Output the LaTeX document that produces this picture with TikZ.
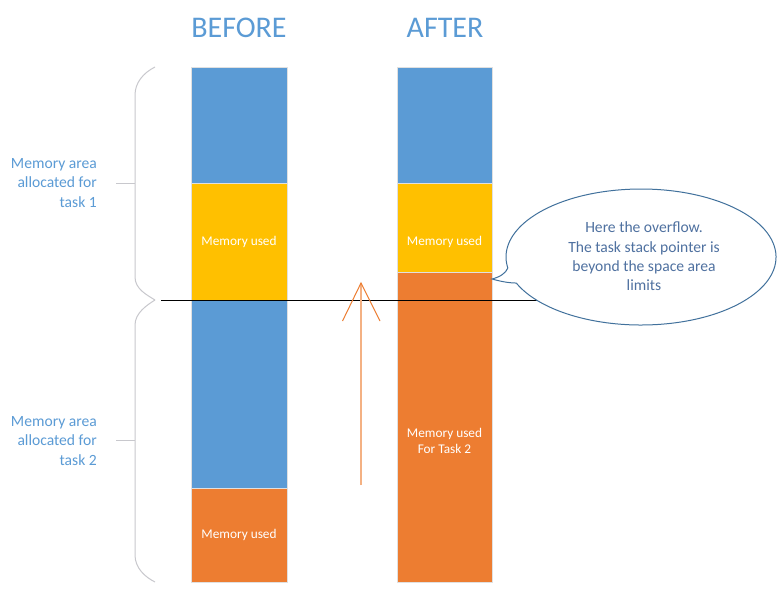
\documentclass[tikz,border=0pt]{standalone}
\usepackage{fontspec}
\setmainfont{Carlito}
\definecolor{mblue}{RGB}{91,155,213}
\definecolor{myellow}{RGB}{255,192,0}
\definecolor{morange}{RGB}{237,125,49}
\definecolor{mpeach}{RGB}{244,177,131}
\definecolor{bracegray}{RGB}{200,200,205}
\definecolor{calloutline}{RGB}{65,113,156}
\definecolor{callouttext}{RGB}{79,113,160}
\begin{document}
\begin{tikzpicture}[x=1pt,y=-1pt,
  membox/.style={draw=black!12,line width=0.8pt,anchor=north west,inner sep=0pt,outer sep=0pt,
    text=white,font=\fontsize{13.3}{16}\selectfont,align=center},
  title/.style={text=mblue,font=\fontsize{30}{36}\selectfont},
  sidelabel/.style={text=mblue,font=\fontsize{15.6}{19.2}\selectfont,align=right,anchor=east,inner sep=0pt},
  bracestyle/.style={draw=bracegray,line width=1pt},
  tick/.style={draw=bracegray,line width=1pt}]
\useasboundingbox (0,0) rectangle (782,592);
\fill[white] (0,0) rectangle (782,592);
% titles
\node[title] (tbefore) at (239,28) {BEFORE};
\node[title] (tafter) at (445,28) {AFTER};
% BEFORE column
\node[membox,fill=mblue,minimum width=96pt,minimum height=116pt] (b1) at (191,67) {};
\node[membox,fill=myellow,minimum width=96pt,minimum height=117pt] (b2) at (191,183) {Memory used};
\node[membox,fill=mblue,minimum width=96pt,minimum height=188pt] (b3) at (191,300) {};
\node[membox,fill=morange,minimum width=96pt,minimum height=94pt] (b4) at (191,488) {\raisebox{-2pt}{Memory used}};
% AFTER column
\node[membox,fill=mblue,minimum width=95pt,minimum height=116pt] (a1) at (397,67) {};
\node[membox,fill=myellow,minimum width=95pt,minimum height=117pt] (a2) at (397,183) {Memory used};
\node[membox,fill=morange,minimum width=95pt,minimum height=28pt] (a3) at (397,272) {};
\node[membox,fill=morange,minimum width=95pt,minimum height=282pt] (a4) at (397,300) {Memory used\\For Task 2};
% braces
\draw[bracestyle] (155,67) .. controls (143,73) and (135,83) .. (135,95) -- (135,277)
  .. controls (135,289) and (147,295) .. (155,300);
\draw[bracestyle] (155,300) .. controls (147,305) and (135,313) .. (135,325) -- (135,555)
  .. controls (135,568) and (145,577) .. (155,582);
\coordinate (br1) at (135,183);
\coordinate (br2) at (135,440);
\node[sidelabel] (lab1) at (97,183) {Memory area\\allocated for\\task 1};
\node[sidelabel] (lab2) at (97,441) {Memory area\\allocated for\\task 2};
\draw[tick] (116,183) -- (br1);
\draw[tick] (116,440) -- (br2);
% limit line
\coordinate (lineL) at (161,300);
\coordinate (lineR) at (560,300);
\draw[black,line width=1pt] (lineL) -- (lineR);
% arrow
\coordinate (arrbot) at (361,485);
\coordinate (arrtop) at (361,283);
\coordinate (headL) at (342.5,321);
\coordinate (headR) at (380,321);
\draw[mpeach,line width=1.5pt] (arrbot) -- (arrtop);
\draw[morange,line width=1pt] (headL) -- (arrtop) -- (headR);
% callout
\coordinate (tip) at (492,279);
\draw[calloutline,line width=1pt,fill=white]
  (507.8,268) arc[start angle=170.7,end angle=517.5,x radius=135,y radius=68]
  .. controls (508,283) and (499,281) .. (tip)
  .. controls (500,277) and (506,273) .. (507.8,268) -- cycle;
\node[text=callouttext,font=\fontsize{15.6}{19.3}\selectfont,align=center] (ctext) at (644,256.5)
  {Here the overflow.\\The task stack pointer is\\beyond the space area\\limits};
\end{tikzpicture}
\end{document}
